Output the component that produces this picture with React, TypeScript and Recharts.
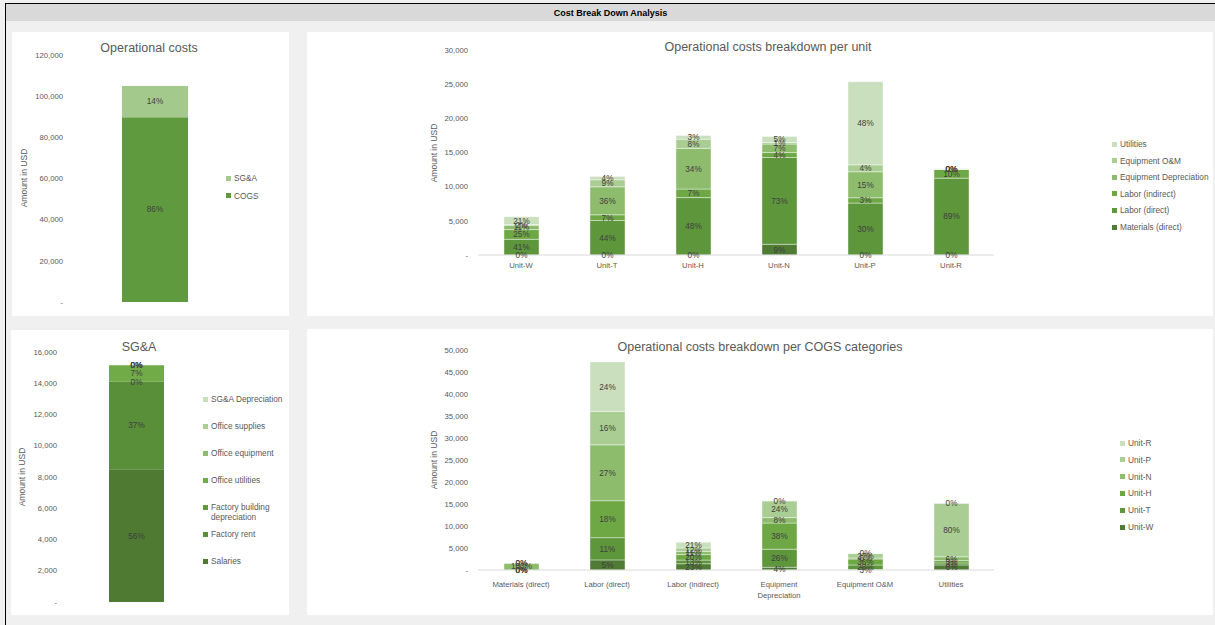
import React from 'react';
import { BarChart, Bar, XAxis, YAxis, LabelList } from 'recharts';

const FONT = '"Liberation Sans", Arial, sans-serif';
const TEXT = '#595959';
const LABEL = '#404040';

// --- Operational costs (COGS vs SG&A)
const opCategory = ['Operational costs'];
const cogsTotal = [89800];
const sgaTotal = [15150];
const opTicks = [0, 20000, 40000, 60000, 80000, 100000, 120000];

// --- SG&A breakdown
const sgaItems = ['Salaries', 'Factory rent', 'Factory building depreciation', 'Office utilities', 'Office equipment', 'Office supplies', 'SG&A Depreciation'];
const sgaValues = [8500, 5600, 0, 1050, 0, 0, 0];
const sgaTicks = [0, 2000, 4000, 6000, 8000, 10000, 12000, 14000, 16000];

// --- COGS per unit (one array per COGS category, ordered like units)
const units = ['Unit-W', 'Unit-T', 'Unit-H', 'Unit-N', 'Unit-P', 'Unit-R'];
const cogsCategories = ['Materials (direct)', 'Labor (direct)', 'Labor (indirect)', 'Equipment Depreciation', 'Equipment O&M', 'Utilities'];
const materialsDirect = [0, 0, 0, 1570, 0, 0];
const laborDirect = [2300, 5050, 8400, 12700, 7600, 11250];
const laborIndirect = [1420, 830, 1250, 720, 780, 1300];
const equipmentDepreciation = [620, 4100, 5950, 1240, 3800, 0];
const equipmentOM = [110, 1030, 1350, 230, 1010, 0];
const utilities = [1150, 460, 525, 870, 12150, 60];
const unitTicks = [0, 5000, 10000, 15000, 20000, 25000, 30000];
const categoryTicks = [0, 5000, 10000, 15000, 20000, 25000, 30000, 35000, 40000, 45000, 50000];

const greens6 = ['#4f7b34', '#5e963c', '#6ea845', '#8cbc6c', '#a9cd93', '#cadfbe'];
const greens7 = ['#4e7a31', '#5a8f39', '#5f9b3c', '#70ab47', '#8dbd6e', '#a9cf93', '#c8dfbc'];
const opColors = ['#609a3e', '#a4c98c'];

const cogsSeries = [materialsDirect, laborDirect, laborIndirect, equipmentDepreciation, equipmentOM, utilities];

const pct = (v: number, total: number) => `${Math.round((v / total) * 100)}%`;
const fmt = (v: number) => (v === 0 ? '-' : v.toLocaleString('en-US'));

const opData = [
  {
    name: opCategory[0],
    cogs: cogsTotal[0],
    sga: sgaTotal[0],
    pcogs: pct(cogsTotal[0], cogsTotal[0] + sgaTotal[0]),
    psga: pct(sgaTotal[0], cogsTotal[0] + sgaTotal[0]),
  },
];

const sgaSum = sgaValues.reduce((a, b) => a + b, 0);
const sgaRow: any = { name: 'SG&A' };
sgaValues.forEach((v, i) => {
  sgaRow[`s${i}`] = v;
  sgaRow[`p${i}`] = pct(v, sgaSum);
});
const sgaData = [sgaRow];

const unitData = units.map((u, i) => {
  const total = cogsSeries.reduce((a, s) => a + s[i], 0);
  const row: any = { name: u };
  cogsSeries.forEach((s, k) => {
    row[`s${k}`] = s[i];
    row[`p${k}`] = pct(s[i], total);
  });
  return row;
});

const categoryData = cogsCategories.map((c, k) => {
  const total = cogsSeries[k].reduce((a, b) => a + b, 0);
  const row: any = { name: c };
  units.forEach((_, i) => {
    row[`u${i}`] = cogsSeries[k][i];
    row[`p${i}`] = pct(cogsSeries[k][i], total);
  });
  return row;
});

const tickStyle = { fill: TEXT, stroke: 'none', fontSize: 7.7, fontFamily: FONT };
const labelStyle = { fill: LABEL, fontSize: 8.2, fontFamily: FONT };

const Legend = ({ items, colors, left, top, gap, maxWidth = 120 }: any) => (
  <>
    {items.map((t: string, i: number) => (
      <div
        key={t}
        style={{ position: 'absolute', left, top: top + i * gap - 5, display: 'flex', alignItems: 'flex-start', fontFamily: FONT, fontSize: 8.3, color: TEXT, lineHeight: '10px' }}
      >
        <span style={{ width: 5, height: 5, background: colors[i], marginTop: 2.5, marginRight: 3, flex: 'none' }} />
        <span style={{ maxWidth }}>{t}</span>
      </div>
    ))}
  </>
);

const Title = ({ text, cx, cy }: any) => (
  <div style={{ position: 'absolute', left: cx, top: cy, transform: 'translate(-50%,-50%)', whiteSpace: 'nowrap', fontFamily: FONT, fontSize: 12.5, color: TEXT }}>{text}</div>
);

const AxisTitle = ({ cx, cy }: any) => (
  <div style={{ position: 'absolute', left: cx, top: cy, transform: 'translate(-50%,-50%) rotate(-90deg)', whiteSpace: 'nowrap', fontFamily: FONT, fontSize: 8.5, color: TEXT }}>Amount in USD</div>
);

const Panel = ({ left, top, width, height, children }: any) => (
  <div style={{ position: 'absolute', left, top, width, height, background: '#fff' }}>{children}</div>
);

// long category names are broken into two lines at the middle space
const CategoryTick = (props: any) => {
  const v: string = props.payload.value;
  let lines = [v];
  if (v.length > 20) {
    const cut = v.indexOf(' ', Math.floor(v.length / 2) - 4);
    lines = [v.slice(0, cut), v.slice(cut + 1)];
  }
  return (
    <text x={props.x} y={props.y + 4} textAnchor="middle" style={tickStyle}>
      {lines.map((l, i) => (
        <tspan key={i} x={props.x} dy={i === 0 ? '0.71em' : 11}>
          {l}
        </tspan>
      ))}
    </text>
  );
};

export default function App() {
  return (
    <div style={{ position: 'fixed', left: 0, top: 0, width: 1215, height: 625, background: '#f0f0f0', overflow: 'hidden' }}>
      <div style={{ position: 'absolute', left: 5, top: 3, width: 1210, height: 640, borderLeft: '1px solid #000', borderTop: '1px solid #000' }} />
      <div style={{ position: 'absolute', left: 6, top: 4, width: 1209, height: 17, background: '#d9d9d9', textAlign: 'center', fontFamily: FONT, fontWeight: 'bold', fontSize: 9, lineHeight: '18px', color: '#000' }}>
        Cost Break Down Analysis
      </div>

      {/* Operational costs */}
      <Panel left={12} top={32} width={277} height={284}>
        <BarChart width={277} height={284} data={opData} margin={{ top: 23, right: 47, bottom: 14, left: 0 }}>
          <XAxis dataKey="name" hide />
          <YAxis width={56} domain={[0, 120000]} ticks={opTicks} tickFormatter={fmt} axisLine={false} tickLine={false} tickSize={3} tickMargin={2} tick={tickStyle} />
          <Bar dataKey="cogs" stackId="a" fill={opColors[0]} barSize={66} isAnimationActive={false}>
            <LabelList dataKey="pcogs" position="center" style={labelStyle} />
          </Bar>
          <Bar dataKey="sga" stackId="a" fill={opColors[1]} barSize={66} isAnimationActive={false}>
            <LabelList dataKey="psga" position="center" style={labelStyle} />
          </Bar>
        </BarChart>
        <Title text="Operational costs" cx={137} cy={16} />
        <AxisTitle cx={12} cy={146} />
        <Legend items={['SG&A', 'COGS']} colors={[opColors[1], opColors[0]]} left={214} top={146} gap={17.5} />
      </Panel>

      {/* Breakdown per unit */}
      <Panel left={307} top={32} width={906} height={284}>
        <BarChart width={906} height={284} data={unitData} margin={{ top: 18, right: 219, bottom: 0, left: 0 }}>
          <XAxis dataKey="name" height={61} axisLine={{ stroke: '#d9d9d9' }} tickLine={false} tick={tickStyle} />
          <YAxis width={171} domain={[0, 30000]} ticks={unitTicks} tickFormatter={fmt} axisLine={false} tickLine={false} tickMargin={4} tick={tickStyle} />
          {cogsCategories.map((c, k) => (
            <Bar key={c} dataKey={`s${k}`} name={c} stackId="a" fill={greens6[k]} stroke="#fff" strokeWidth={0.4} barSize={35} minPointSize={0.01} isAnimationActive={false}>
              <LabelList dataKey={`p${k}`} position="center" style={labelStyle} />
            </Bar>
          ))}
        </BarChart>
        <Title text="Operational costs breakdown per unit" cx={461} cy={15} />
        <AxisTitle cx={127} cy={121} />
        <Legend items={[...cogsCategories].reverse()} colors={[...greens6].reverse()} left={805} top={112} gap={16.6} />
      </Panel>

      {/* SG&A */}
      <Panel left={11} top={330} width={278} height={285}>
        <BarChart width={278} height={285} data={sgaData} margin={{ top: 22, right: 78, bottom: 13, left: 0 }}>
          <XAxis dataKey="name" hide />
          <YAxis width={51} domain={[0, 16000]} ticks={sgaTicks} tickFormatter={fmt} axisLine={false} tickLine={false} tickSize={3} tickMargin={2} tick={tickStyle} />
          {sgaItems.map((s, i) => (
            <Bar key={s} dataKey={`s${i}`} name={s} stackId="a" fill={greens7[i]} barSize={55} minPointSize={0.01} isAnimationActive={false}>
              <LabelList dataKey={`p${i}`} position="center" style={labelStyle} />
            </Bar>
          ))}
        </BarChart>
        <Title text="SG&A" cx={128} cy={17} />
        <AxisTitle cx={11} cy={147} />
        <Legend items={[...sgaItems].reverse()} colors={[...greens7].reverse()} left={192} top={69} gap={27} maxWidth={72} />
      </Panel>

      {/* Breakdown per COGS category */}
      <Panel left={307} top={329} width={906} height={286}>
        <BarChart width={906} height={286} data={categoryData} margin={{ top: 21, right: 219, bottom: 0, left: 0 }}>
          <XAxis dataKey="name" height={45} axisLine={{ stroke: '#d9d9d9' }} tickLine={false} tick={<CategoryTick />} interval={0} />
          <YAxis width={171} domain={[0, 50000]} ticks={categoryTicks} tickFormatter={fmt} axisLine={false} tickLine={false} tickMargin={4} tick={tickStyle} />
          {units.map((u, i) => (
            <Bar key={u} dataKey={`u${i}`} name={u} stackId="a" fill={greens6[i]} stroke="#fff" strokeWidth={0.4} barSize={35} minPointSize={0.01} isAnimationActive={false}>
              <LabelList dataKey={`p${i}`} position="center" style={labelStyle} />
            </Bar>
          ))}
        </BarChart>
        <Title text="Operational costs breakdown per COGS categories" cx={453} cy={18} />
        <AxisTitle cx={127} cy={131} />
        <Legend items={[...units].reverse()} colors={[...greens6].reverse()} left={813} top={114} gap={16.8} />
      </Panel>
    </div>
  );
}
